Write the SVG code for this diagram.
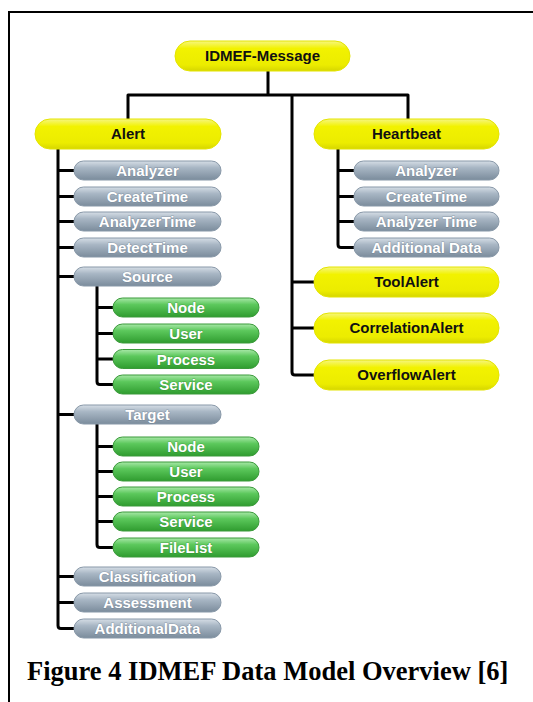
<svg xmlns="http://www.w3.org/2000/svg" width="533" height="702" viewBox="0 0 533 702">
<defs>
<linearGradient id="gy" x1="0" y1="0" x2="0" y2="1">
<stop offset="0" stop-color="#f6f680"/>
<stop offset="0.25" stop-color="#f2f200"/>
<stop offset="0.8" stop-color="#ecec00"/>
<stop offset="1" stop-color="#d6d600"/>
</linearGradient>
<linearGradient id="gg" x1="0" y1="0" x2="0" y2="1">
<stop offset="0" stop-color="#d6dee6"/>
<stop offset="0.35" stop-color="#a8b6c4"/>
<stop offset="1" stop-color="#7b8c9c"/>
</linearGradient>
<linearGradient id="gn" x1="0" y1="0" x2="0" y2="1">
<stop offset="0" stop-color="#a8e8a8"/>
<stop offset="0.35" stop-color="#5cc85c"/>
<stop offset="1" stop-color="#2f9c2f"/>
</linearGradient>
</defs>
<style>
.frame{fill:none;stroke:#000;stroke-width:2}
.c{fill:none;stroke:#000;stroke-width:3;stroke-linejoin:round}
.y{fill:url(#gy);stroke:#e4e400;stroke-width:1}
.g{fill:url(#gg);stroke:#8898a8;stroke-width:1}
.n{fill:url(#gn);stroke:#3a9a3a;stroke-width:1}
.ty{font-family:"Liberation Sans",Arial,sans-serif;font-weight:bold;font-size:15px;fill:#111;text-anchor:middle}
.tw{font-family:"Liberation Sans",Arial,sans-serif;font-weight:bold;font-size:15px;fill:#fff;text-anchor:middle;stroke:#5d6e7e;stroke-width:1;stroke-opacity:0.45;paint-order:stroke}
.tn{font-family:"Liberation Sans",Arial,sans-serif;font-weight:bold;font-size:15px;fill:#fff;text-anchor:middle;stroke:#2a7a2a;stroke-width:1;stroke-opacity:0.45;paint-order:stroke}
.cap{font-family:"Liberation Serif","Times New Roman",serif;font-weight:bold;font-size:26.5px;fill:#000}
</style>
<rect width="533" height="702" fill="#fff"/>
<path class="frame" d="M9,702 V12 H533"/>

<g id="connectors">
<path class="c" d="M268,71 V95"/>
<path class="c" d="M128,119 V95 H408 V119"/>
<path class="c" d="M292,95 V372 Q292,375 295,375 H314"/>
<path class="c" d="M292,282 H314 M292,328 H314"/>
<path class="c" d="M58,149 V625.5 Q58,628.5 61,628.5 H74"/>
<path class="c" d="M58,170.5 H74 M58,196.5 H74 M58,221.5 H74 M58,247.5 H74 M58,276.5 H74 M58,414.5 H74 M58,576.5 H74 M58,602.5 H74"/>
<path class="c" d="M97,286 V381.5 Q97,384.5 100,384.5 H113"/>
<path class="c" d="M97,307.5 H113 M97,333.5 H113 M97,359 H113"/>
<path class="c" d="M97,424 V544.5 Q97,547.5 100,547.5 H113"/>
<path class="c" d="M97,446.5 H113 M97,471.5 H113 M97,496.5 H113 M97,521.5 H113"/>
<path class="c" d="M338,149 V244.5 Q338,247.5 341,247.5 H354"/>
<path class="c" d="M338,170.5 H354 M338,196.5 H354 M338,221.5 H354"/>
</g>

<g id="idmef-message"><rect class="y" x="175" y="41" width="175" height="30" rx="15"/><text class="ty" x="262.5" y="61">IDMEF-Message</text></g>
<g id="alert"><rect class="y" x="35" y="119" width="186" height="30" rx="15"/><text class="ty" x="128" y="139">Alert</text></g>
<g id="heartbeat"><rect class="y" x="314" y="119" width="185" height="30" rx="15"/><text class="ty" x="406.5" y="139">Heartbeat</text></g>
<g id="toolalert"><rect class="y" x="314" y="267" width="185" height="30" rx="15"/><text class="ty" x="406.5" y="287">ToolAlert</text></g>
<g id="correlationalert"><rect class="y" x="314" y="313" width="185" height="30" rx="15"/><text class="ty" x="406.5" y="333">CorrelationAlert</text></g>
<g id="overflowalert"><rect class="y" x="314" y="360" width="185" height="30" rx="15"/><text class="ty" x="406.5" y="380">OverflowAlert</text></g>

<g id="alert-analyzer"><rect class="g" x="74" y="161" width="147" height="19" rx="9.5"/><text class="tw" x="147.5" y="176">Analyzer</text></g>
<g id="alert-createtime"><rect class="g" x="74" y="187" width="147" height="19" rx="9.5"/><text class="tw" x="147.5" y="202">CreateTime</text></g>
<g id="alert-analyzertime"><rect class="g" x="74" y="212" width="147" height="19" rx="9.5"/><text class="tw" x="147.5" y="227">AnalyzerTime</text></g>
<g id="alert-detecttime"><rect class="g" x="74" y="238" width="147" height="19" rx="9.5"/><text class="tw" x="147.5" y="253">DetectTime</text></g>
<g id="alert-source"><rect class="g" x="74" y="267" width="147" height="19" rx="9.5"/><text class="tw" x="147.5" y="282">Source</text></g>
<g id="source-node"><rect class="n" x="113" y="298" width="146" height="19" rx="9.5"/><text class="tn" x="186" y="313">Node</text></g>
<g id="source-user"><rect class="n" x="113" y="324" width="146" height="19" rx="9.5"/><text class="tn" x="186" y="339">User</text></g>
<g id="source-process"><rect class="n" x="113" y="349.5" width="146" height="19" rx="9.5"/><text class="tn" x="186" y="364.5">Process</text></g>
<g id="source-service"><rect class="n" x="113" y="375" width="146" height="19" rx="9.5"/><text class="tn" x="186" y="390">Service</text></g>
<g id="alert-target"><rect class="g" x="74" y="405" width="147" height="19" rx="9.5"/><text class="tw" x="147.5" y="420">Target</text></g>
<g id="target-node"><rect class="n" x="113" y="437" width="146" height="19" rx="9.5"/><text class="tn" x="186" y="452">Node</text></g>
<g id="target-user"><rect class="n" x="113" y="462" width="146" height="19" rx="9.5"/><text class="tn" x="186" y="477">User</text></g>
<g id="target-process"><rect class="n" x="113" y="487" width="146" height="19" rx="9.5"/><text class="tn" x="186" y="502">Process</text></g>
<g id="target-service"><rect class="n" x="113" y="512" width="146" height="19" rx="9.5"/><text class="tn" x="186" y="527">Service</text></g>
<g id="target-filelist"><rect class="n" x="113" y="538" width="146" height="19" rx="9.5"/><text class="tn" x="186" y="553">FileList</text></g>
<g id="alert-classification"><rect class="g" x="74" y="567" width="147" height="19" rx="9.5"/><text class="tw" x="147.5" y="582">Classification</text></g>
<g id="alert-assessment"><rect class="g" x="74" y="593" width="147" height="19" rx="9.5"/><text class="tw" x="147.5" y="608">Assessment</text></g>
<g id="alert-additionaldata"><rect class="g" x="74" y="619" width="147" height="19" rx="9.5"/><text class="tw" x="147.5" y="634">AdditionalData</text></g>

<g id="hb-analyzer"><rect class="g" x="354" y="161" width="145" height="19" rx="9.5"/><text class="tw" x="426.5" y="176">Analyzer</text></g>
<g id="hb-createtime"><rect class="g" x="354" y="187" width="145" height="19" rx="9.5"/><text class="tw" x="426.5" y="202">CreateTime</text></g>
<g id="hb-analyzertime"><rect class="g" x="354" y="212" width="145" height="19" rx="9.5"/><text class="tw" x="426.5" y="227">Analyzer Time</text></g>
<g id="hb-additionaldata"><rect class="g" x="354" y="238" width="145" height="19" rx="9.5"/><text class="tw" x="426.5" y="253">Additional Data</text></g>

<text class="cap" x="27" y="680">Figure 4 IDMEF Data Model Overview [6]</text>
</svg>
